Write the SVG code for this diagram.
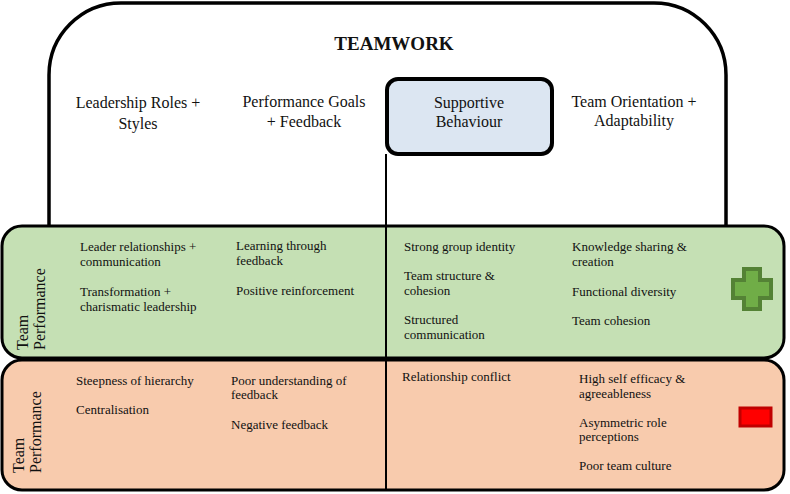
<svg xmlns="http://www.w3.org/2000/svg" width="790" height="494" viewBox="0 0 790 494">
<style>
text{font-family:"Liberation Serif","Times New Roman",serif;fill:#111}
.h{font-size:16px;text-anchor:middle}
.t{font-size:13px}
.r{font-size:16px}
.box{stroke:#000;stroke-width:3}
</style>
<rect width="790" height="494" fill="#fff"/>
<g id="teamwork">
<path d="M49,228 V75 A72,72 0 0 1 121,3 H654 A72,72 0 0 1 726,75 V228" fill="none" stroke="#000" stroke-width="3.5"/>
<text x="394" y="50" font-size="19" font-weight="bold" text-anchor="middle">TEAMWORK</text>
</g>
<g id="leadership"><text class="h" x="138" y="108">Leadership Roles +</text><text class="h" x="138" y="129">Styles</text></g>
<g id="goals"><text class="h" x="304" y="107">Performance Goals</text><text class="h" x="304" y="127">+ Feedback</text></g>
<g id="orientation"><text class="h" x="634" y="107">Team Orientation +</text><text class="h" x="634" y="126">Adaptability</text></g>
<g id="positive">
<rect class="box" x="2" y="226" width="782" height="132" rx="20" fill="#c5e0b4"/>
<text class="r" transform="translate(28,350) rotate(-90)">Team</text>
<text class="r" transform="translate(45,350) rotate(-90)">Performance</text>
<text class="t" x="80" y="251">Leader relationships +</text>
<text class="t" x="80" y="266">communication</text>
<text class="t" x="80" y="296">Transformation +</text>
<text class="t" x="80" y="311">charismatic leadership</text>
<text class="t" x="236" y="250">Learning through</text>
<text class="t" x="236" y="265">feedback</text>
<text class="t" x="236" y="295">Positive reinforcement</text>
<text class="t" x="404" y="251">Strong group identity</text>
<text class="t" x="404" y="280">Team structure &amp;</text>
<text class="t" x="404" y="295">cohesion</text>
<text class="t" x="404" y="324">Structured</text>
<text class="t" x="404" y="339">communication</text>
<text class="t" x="572" y="251">Knowledge sharing &amp;</text>
<text class="t" x="572" y="266">creation</text>
<text class="t" x="572" y="296">Functional diversity</text>
<text class="t" x="572" y="325">Team cohesion</text>
<path d="M744,269 H760 V280 H771 V298 H760 V309 H744 V298 H733 V280 H744 Z" fill="#70ad47" stroke="#548235" stroke-width="4"/>
</g>
<g id="negative">
<rect class="box" x="2" y="360" width="782" height="130" rx="20" fill="#f8cbad"/>
<text class="r" transform="translate(24,473) rotate(-90)">Team</text>
<text class="r" transform="translate(41,473) rotate(-90)">Performance</text>
<text class="t" x="76" y="385">Steepness of hierarchy</text>
<text class="t" x="76" y="414">Centralisation</text>
<text class="t" x="231" y="385">Poor understanding of</text>
<text class="t" x="231" y="399">feedback</text>
<text class="t" x="231" y="429">Negative feedback</text>
<text class="t" x="402" y="381">Relationship conflict</text>
<text class="t" x="579" y="383">High self efficacy &amp;</text>
<text class="t" x="579" y="398">agreeableness</text>
<text class="t" x="579" y="427">Asymmetric role</text>
<text class="t" x="579" y="441">perceptions</text>
<text class="t" x="579" y="470">Poor team culture</text>
<rect x="740" y="408" width="31" height="18" fill="#ff0000" stroke="#c00000" stroke-width="3"/>
</g>
<g id="supportive">
<rect x="387" y="79" width="165" height="75" rx="11" fill="#dce6f2" stroke="#000" stroke-width="4"/>
<text class="h" x="469" y="108">Supportive</text>
<text class="h" x="469" y="127">Behaviour</text>
</g>
<g id="connectors">
<line x1="386" y1="154" x2="386" y2="490" stroke="#000" stroke-width="2"/>
</g>
</svg>
